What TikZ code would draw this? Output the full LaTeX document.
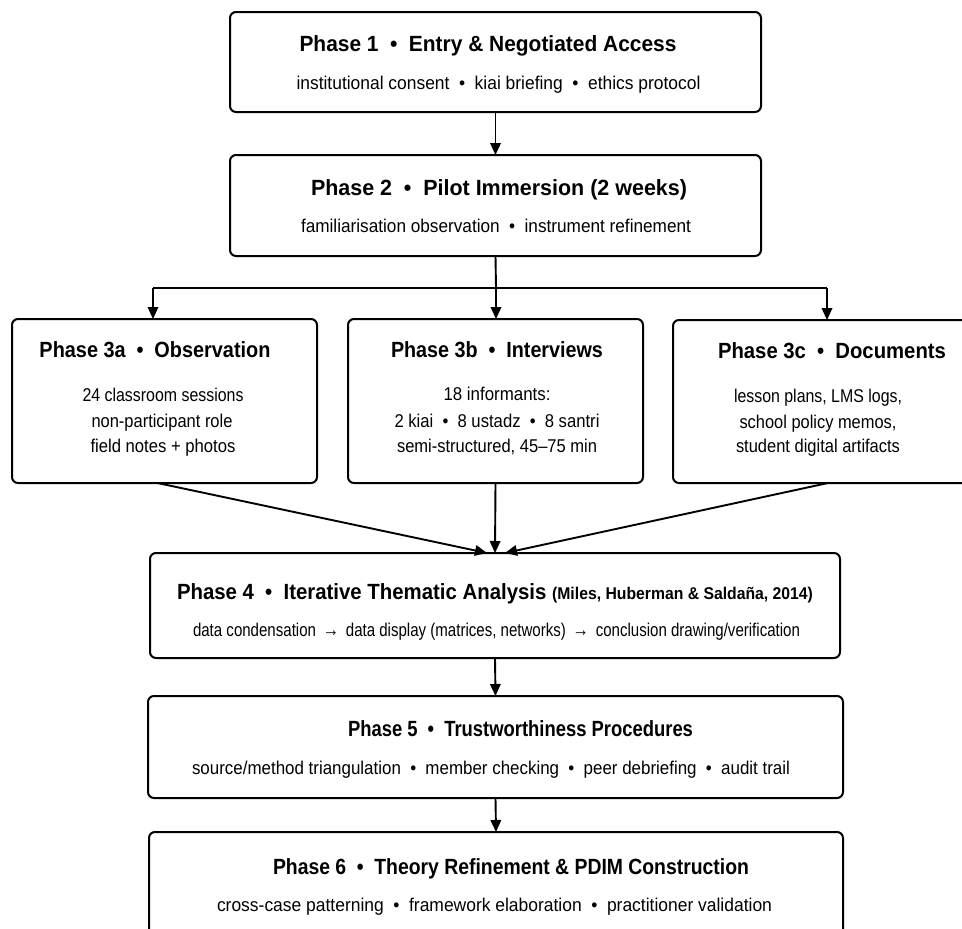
\documentclass[tikz,border=0pt]{standalone}
\usepackage{fontspec}
\setmainfont{Liberation Sans}
\usepackage{graphicx}
\usetikzlibrary{arrows.meta}
\newsavebox\fitbox
\newcommand\fitto[2]{\sbox\fitbox{#2}\pgfmathsetmacro\fitf{#1/\wd\fitbox}\scalebox{\fitf}[1]{\usebox\fitbox}}
\newcommand\bul{\hspace{0.55em}\textbullet\hspace{0.55em}}
\newcommand\rar{\hspace{0.45em}{\fontsize{20}{20}\selectfont →}\hspace{0.45em}}
\tikzset{
  box/.style={draw, line width=2pt, rounded corners=6pt, fill=white, inner sep=0pt, outer sep=0pt, anchor=north west},
  ttl/.style={anchor=base, inner sep=0pt, font=\fontsize{22}{26}\selectfont\bfseries},
  sub/.style={anchor=base, inner sep=0pt, font=\fontsize{18.5}{22}\selectfont},
  arr/.style={line width=1.9pt, -{Triangle[length=12pt,width=10.5pt]}},
  ln/.style={line width=1.9pt},
}
\begin{document}
\begin{tikzpicture}[x=1pt,y=-1pt]
\useasboundingbox (0,0) rectangle (962,929);
\clip (0,0) rectangle (962,929);
\fill[white] (0,0) rectangle (962,929);
% boxes
\node[box, minimum width=531pt, minimum height=100pt] (b1) at (230,12) {};
\node[box, minimum width=531pt, minimum height=101pt] (b2) at (230,155) {};
\node[box, minimum width=305pt, minimum height=164pt] (b3a) at (12,319) {};
\node[box, minimum width=295pt, minimum height=164pt] (b3b) at (348,319) {};
\node[box, minimum width=304pt, minimum height=163pt] (b3c) at (673,320) {};
\node[box, minimum width=690pt, minimum height=105pt] (b4) at (150,553) {};
\node[box, minimum width=695pt, minimum height=102pt] (b5) at (148,696) {};
\node[box, minimum width=694pt, minimum height=115pt] (b6) at (149,832) {};
% texts
\node[ttl] (t1) at (488,51) {\fitto{377}{Phase 1\bul Entry \& Negotiated Access}};
\node[sub] (s1) at (498.5,89) {\fitto{404}{institutional consent\bul kiai briefing\bul ethics protocol}};
\node[ttl] (t2) at (499,195) {\fitto{376}{Phase 2\bul Pilot Immersion (2 weeks)}};
\node[sub] (s2) at (496,232) {\fitto{390}{familiarisation observation\bul instrument refinement}};
\node[ttl] (t3a) at (155,357) {\fitto{231}{Phase 3a\bul Observation}};
\node[sub] (l3a1) at (163,401) {\fitto{161}{24 classroom sessions}};
\node[sub] (l3a2) at (162,427) {\fitto{141}{non-participant role}};
\node[sub] (l3a3) at (163,452) {\fitto{145}{field notes + photos}};
\node[ttl] (t3b) at (497,357) {\fitto{212}{Phase 3b\bul Interviews}};
\node[sub] (l3b1) at (497,400) {\fitto{107}{18 informants:}};
\node[sub] (l3b2) at (497,427) {\fitto{205}{2 kiai\bul 8 ustadz\bul 8 santri}};
\node[sub] (l3b3) at (497,452) {\fitto{200}{semi-structured, 45–75 min}};
\node[ttl] (t3c) at (832,358) {\fitto{228}{Phase 3c\bul Documents}};
\node[sub] (l3c1) at (818,402) {\fitto{168}{lesson plans, LMS logs,}};
\node[sub] (l3c2) at (818,428) {\fitto{157}{school policy memos,}};
\node[sub] (l3c3) at (818,452) {\fitto{164}{student digital artifacts}};
\node[ttl] (t4) at (495,599) {\fitto{636}{Phase 4\bul Iterative Thematic Analysis {\fontsize{17}{19}\selectfont (Miles, Huberman \& Saldaña, 2014)}}};
\node[sub] (s4) at (496.5,636) {\fitto{607}{data condensation\rar data display (matrices, networks)\rar conclusion drawing/verification}};
\node[ttl] (t5) at (520.5,736) {\fitto{345}{Phase 5\bul Trustworthiness Procedures}};
\node[sub] (s5) at (491,774) {\fitto{598}{source/method triangulation\bul member checking\bul peer debriefing\bul audit trail}};
\node[ttl] (t6) at (511,874) {\fitto{476}{Phase 6\bul Theory Refinement \& PDIM Construction}};
\node[sub] (s6) at (494.5,911) {\fitto{555}{cross-case patterning\bul framework elaboration\bul practitioner validation}};
% connectors
\draw[arr] (b1.south) -- (b2.north);
\coordinate (j) at (496,288);
\coordinate (ja) at (153,288);
\coordinate (jc) at (827,288);
\draw[ln] (b2.south) -- (j);
\draw[ln] (ja) -- (jc);
\draw[arr] (j) -- (j |- b3b.north);
\draw[arr] (ja) -- (ja |- b3a.north);
\draw[arr] (jc) -- (jc |- b3c.north);
\draw[arr] ([xshift=-7pt]b3a.south) -- ([xshift=-8pt]b4.north);
\draw[arr] (b3b.south) -- (b4.north);
\draw[arr] ([xshift=3pt]b3c.south) -- ([xshift=10pt]b4.north);
\draw[arr] (b4.south) -- (b5.north);
\draw[arr] (b5.south) -- (b6.north);
\end{tikzpicture}
\end{document}
